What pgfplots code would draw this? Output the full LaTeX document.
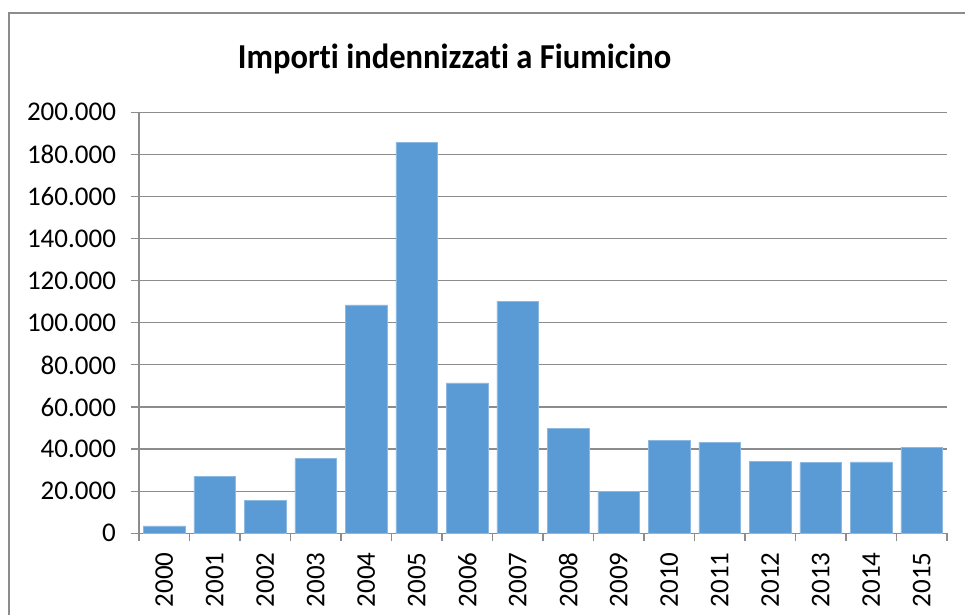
\documentclass[border=0pt]{standalone}
\usepackage{pgfplots}
\pgfplotsset{compat=1.18}
\usepackage{fontspec}
\setmainfont[RawFeature=-liga]{Carlito}
\definecolor{barblue}{HTML}{5B9BD5}
\definecolor{gridgray}{HTML}{8C8C8C}
\begin{document}
\begin{tikzpicture}
\useasboundingbox (0,0) rectangle (482.5pt,307.5pt);
\draw[color=gridgray, line width=0.7pt] (4.5pt,-20pt) -- (4.5pt,301pt) -- (520pt,301pt);
\node[anchor=base, xscale=0.93, font=\fontsize{17.5}{21}\selectfont\bfseries] at (227.3pt,273.3pt) {Importi indennizzati a Fiumicino};
\begin{axis}[
  at={(69.5pt,40.85pt)}, anchor=south west,
  scale only axis, width=404pt, height=210.5pt,
  ymin=0, ymax=200000,
  xmin=-0.5, xmax=15.5,
  ytick={0,20000,...,200000},
  scaled y ticks=false,
  /pgf/number format/fixed,
  /pgf/number format/1000 sep={.},
  /pgf/number format/assume math mode=true,
  yticklabel style={font=\fontsize{13.5}{15}\selectfont, xshift=-4pt},
  xtick={0,...,15},
  xticklabels={2000,2001,2002,2003,2004,2005,2006,2007,2008,2009,2010,2011,2012,2013,2014,2015},
  xticklabel style={font=\fontsize{13.5}{15}\selectfont, yshift=-2pt, rotate=90, anchor=east},
  major x tick style={draw=none},
  minor xtick={-0.5,0.5,...,15.5},
  minor tick length=4pt,
  major tick length=4pt,
  tick align=outside,
  tick style={color=gridgray, line width=0.6pt},
  ymajorgrids, major grid style={color=gridgray, line width=0.6pt},
  axis x line*=bottom, axis y line*=left,
  axis line style={color=gridgray, line width=0.6pt},
  x axis line style={-}, y axis line style={-},
  ybar, bar width=20.8pt,
]
\addplot[fill=barblue, draw=barblue!70!white, line width=0.4pt] coordinates {
(0,3500) (1,27100) (2,15800) (3,35400) (4,108500) (5,185700) (6,71400) (7,110300)
(8,50000) (9,19800) (10,44000) (11,43200) (12,34200) (13,33500) (14,33900) (15,40900)
};
\end{axis}
\end{tikzpicture}
\end{document}
